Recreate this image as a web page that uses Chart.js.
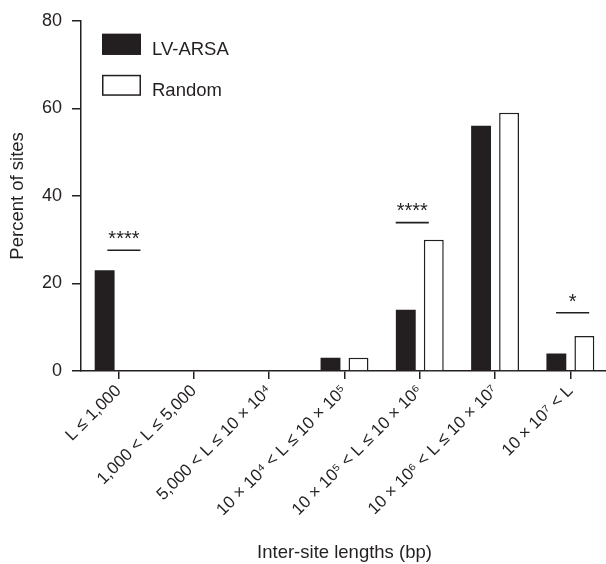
<!DOCTYPE html>
<html>
<head>
<meta charset="utf-8">
<script src="https://cdn.jsdelivr.net/npm/chart.js@4/dist/chart.umd.min.js"></script>
<style>
  html, body { margin: 0; padding: 0; background: #fff; overflow: hidden; }
  #wrap { width: 620px; height: 564px; }
</style>
</head>
<body>
<div id="wrap"><canvas id="c" width="620" height="564"></canvas></div>
<script>
// ---- data ----
const categories = [
  "L ≤ 1,000",
  "1,000 < L ≤ 5,000",
  "5,000 < L ≤ 10 × 10⁴",
  "10 × 10⁴ < L ≤ 10 × 10⁵",
  "10 × 10⁵ < L ≤ 10 × 10⁶",
  "10 × 10⁶ < L ≤ 10 × 10⁷",
  "10 × 10⁷ < L"
];
const lvArsa = [23, 0, 0, 3, 14, 56, 4];
const randomSites = [0, 0, 0, 3, 30, 59, 8];
const yTicks = [0, 20, 40, 60, 80];
// significance marks: category index, bar-line value, star label, star value
const sigCategory = [0, 4, 6];
const sigLineValue = [27.6, 33.9, 13.3];
const sigStarValue = [31.3, 37.7, 17.0];
const sigLabel = ["****", "****", "*"];
const sigShift = [0.07, -0.1, 0.03];

const INK = '#231f20';
const FONT = "'Liberation Sans', Arial, Helvetica, sans-serif";

const sigPlugin = {
  id: 'sig',
  afterDatasetsDraw(chart) {
    const ctx = chart.ctx, xs = chart.scales.x, ys = chart.scales.y;
    const step = xs.getPixelForValue(1) - xs.getPixelForValue(0);
    ctx.save();
    ctx.strokeStyle = INK; ctx.fillStyle = INK; ctx.lineWidth = 1.6;
    sigCategory.forEach((ci, i) => {
      const cx = xs.getPixelForValue(ci) + sigShift[i] * step;
      const half = 0.22 * step;
      const ly = ys.getPixelForValue(sigLineValue[i]);
      ctx.beginPath(); ctx.moveTo(cx - half, ly); ctx.lineTo(cx + half, ly); ctx.stroke();
      const fs = 20;
      ctx.font = fs + 'px ' + FONT;
      ctx.textAlign = 'center'; ctx.textBaseline = 'alphabetic';
      const sy = ys.getPixelForValue(sigStarValue[i]) + 0.57 * fs;
      ctx.fillText(sigLabel[i], cx, sy);
    });
    ctx.restore();
  }
};

const legendPlugin = {
  id: 'boxlegend',
  afterDraw(chart) {
    const ctx = chart.ctx, a = chart.chartArea;
    ctx.save();
    chart.data.datasets.forEach((ds, i) => {
      const bx = a.left + 21, by = a.top + 13 + i * 41, bw = 39, bh = 21;
      ctx.fillStyle = ds.backgroundColor;
      ctx.fillRect(bx, by, bw, bh);
      ctx.strokeStyle = INK; ctx.lineWidth = 1.5;
      ctx.strokeRect(bx + 0.75, by + 0.75, bw - 1.5, bh - 1.5);
      ctx.fillStyle = INK;
      ctx.font = '18.5px ' + FONT;
      ctx.textAlign = 'left'; ctx.textBaseline = 'alphabetic';
      ctx.fillText(ds.label, bx + 50, by + bh);
    });
    ctx.restore();
  }
};

new Chart(document.getElementById('c'), {
  type: 'bar',
  data: {
    labels: categories,
    datasets: [
      { label: 'LV-ARSA', data: lvArsa, backgroundColor: INK, borderColor: INK, borderWidth: 0,
        categoryPercentage: 0.744, barPercentage: 0.71 },
      { label: 'Random', data: randomSites, backgroundColor: '#ffffff', borderColor: INK, borderWidth: 1.5,
        categoryPercentage: 0.744, barPercentage: 0.71 }
    ]
  },
  options: {
    responsive: false,
    animation: false,
    devicePixelRatio: 1,
    layout: { padding: { top: 20, right: 12, left: 0, bottom: 0 } },
    plugins: { legend: { display: false }, tooltip: { enabled: false } },
    scales: {
      x: {
        grid: { offset: false, drawOnChartArea: false, tickLength: 8, color: INK, lineWidth: 1.5 },
        border: { color: INK, width: 1.5 },
        ticks: { autoSkip: false, maxRotation: 45, minRotation: 45, padding: 2, color: INK,
                 font: { family: FONT, size: 17 } },
        title: { display: true, text: 'Inter-site lengths (bp)', color: INK,
                 font: { family: FONT, size: 18.5 }, padding: { top: 0, bottom: 0 } },
        afterFit(scale) { scale.height = 193; }
      },
      y: {
        min: 0, max: 80,
        afterBuildTicks(scale) { scale.ticks = yTicks.map(v => ({ value: v })); },
        grid: { drawOnChartArea: false, tickLength: 9, color: INK, lineWidth: 1.5 },
        border: { color: INK, width: 1.5 },
        ticks: { padding: 10, color: INK, font: { family: FONT, size: 18 } },
        title: { display: true, text: 'Percent of sites', color: INK,
                 font: { family: FONT, size: 18.5 }, padding: { top: 7, bottom: 0 } },
        afterFit(scale) { scale.width = 81; }
      }
    }
  },
  plugins: [sigPlugin, legendPlugin]
});
</script>
</body>
</html>
